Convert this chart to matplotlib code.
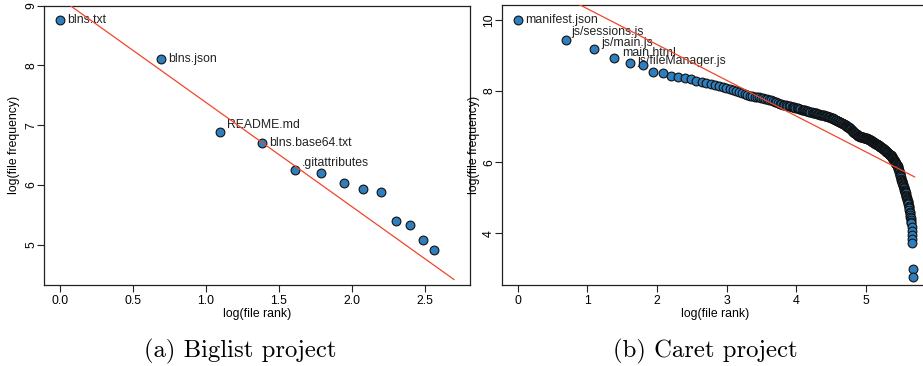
import matplotlib
matplotlib.use("Agg")
import matplotlib.pyplot as plt
import numpy as np

# (a) Biglist project: log frequency of each file, ordered by rank
biglist_freq = [8.76, 8.10, 6.89, 6.70, 6.25, 6.20, 6.04, 5.93, 5.89,
                5.40, 5.34, 5.08, 4.92]
biglist_names = ["blns.txt", "blns.json", "README.md", "blns.base64.txt",
                 ".gitattributes"]
biglist_fit = (9.12, -1.74)   # intercept, slope
biglist_fit_end = 2.70

# (b) Caret project
caret_freq = [
    10.00, 9.44, 9.19, 8.92, 8.80, 8.72, 8.53, 8.52, 8.42, 8.39,
    8.36, 8.33, 8.29, 8.26, 8.23, 8.19, 8.16, 8.13, 8.11, 8.09,
    8.05, 8.02, 7.99, 7.97, 7.94, 7.91, 7.89, 7.87, 7.85, 7.84,
    7.83, 7.82, 7.81, 7.80, 7.79, 7.78, 7.76, 7.74, 7.72, 7.70,
    7.68, 7.66, 7.65, 7.63, 7.62, 7.61, 7.60, 7.59, 7.58, 7.57,
    7.56, 7.55, 7.54, 7.53, 7.52, 7.51, 7.50, 7.49, 7.48, 7.47,
    7.46, 7.46, 7.45, 7.44, 7.43, 7.42, 7.41, 7.40, 7.39, 7.39,
    7.38, 7.37, 7.37, 7.36, 7.35, 7.35, 7.34, 7.33, 7.33, 7.32,
    7.32, 7.31, 7.31, 7.30, 7.29, 7.28, 7.28, 7.27, 7.26, 7.25,
    7.24, 7.23, 7.22, 7.21, 7.20, 7.19, 7.18, 7.17, 7.16, 7.15,
    7.14, 7.13, 7.12, 7.11, 7.10, 7.09, 7.08, 7.07, 7.06, 7.05,
    7.04, 7.02, 7.01, 7.00, 6.99, 6.98, 6.97, 6.95, 6.93, 6.92,
    6.90, 6.89, 6.87, 6.86, 6.84, 6.83, 6.81, 6.80, 6.79, 6.78,
    6.77, 6.75, 6.74, 6.74, 6.73, 6.73, 6.72, 6.72, 6.71, 6.71,
    6.70, 6.70, 6.70, 6.69, 6.69, 6.69, 6.68, 6.68, 6.68, 6.67,
    6.66, 6.66, 6.65, 6.64, 6.64, 6.63, 6.62, 6.62, 6.61, 6.60,
    6.59, 6.59, 6.58, 6.57, 6.56, 6.56, 6.55, 6.54, 6.53, 6.52,
    6.52, 6.51, 6.50, 6.50, 6.49, 6.48, 6.48, 6.47, 6.46, 6.46,
    6.45, 6.44, 6.43, 6.43, 6.42, 6.41, 6.40, 6.40, 6.39, 6.38,
    6.37, 6.36, 6.35, 6.35, 6.34, 6.33, 6.32, 6.31, 6.30, 6.29,
    6.28, 6.28, 6.27, 6.26, 6.25, 6.24, 6.23, 6.22, 6.21, 6.21,
    6.20, 6.19, 6.19, 6.18, 6.16, 6.15, 6.13, 6.12, 6.10, 6.09,
    6.07, 6.06, 6.04, 6.03, 6.01, 6.00, 5.99, 5.97, 5.96, 5.94,
    5.93, 5.91, 5.90, 5.88, 5.87, 5.84, 5.81, 5.78, 5.75, 5.72,
    5.69, 5.66, 5.63, 5.60, 5.57, 5.54, 5.50, 5.48, 5.46, 5.43,
    5.41, 5.38, 5.36, 5.33, 5.31, 5.28, 5.26, 5.23, 5.21, 5.18,
    5.16, 5.14, 5.12, 5.09, 5.06, 5.03, 5.00, 4.97, 4.94, 4.91,
    4.88, 4.84, 4.81, 4.78, 4.75, 4.71, 4.66, 4.61, 4.56, 4.51,
    4.46, 4.42, 4.38, 4.33, 4.28, 4.17, 4.06, 3.95, 3.84, 3.73,
    3.00, 2.78,
]
caret_names = ["manifest.json", "js/sessions.js", "js/main.js", "main.html",
               "js/fileManager.js"]
caret_fit = (11.32, -1.006)
caret_fit_end = 5.70

plt.rcParams["font.family"] = ["Liberation Sans", "DejaVu Sans"]

fill = "#2f7ebd"
red = "#f2462a"
fs = 8.8


def panel(ax, freq, names, fit, fit_end, nudges, xlim, ylim, xticks, yticks,
          tickfmt, ylab_x):
    rank = np.log(np.arange(1, len(freq) + 1))
    freq = np.array(freq)

    for i, name in enumerate(names):
        dx, dy = nudges[i]
        ax.annotate(name, (rank[i], freq[i]), xytext=(dx, dy),
                    textcoords="offset points", fontsize=fs,
                    va="center", ha="left", color="#222222", zorder=2)

    ax.scatter(rank, freq, s=40, c=fill, edgecolors="#111111",
               linewidths=0.8, zorder=3)

    xs = np.array([0, fit_end])
    ax.plot(xs, fit[0] + fit[1] * xs, color=red, lw=0.9, zorder=4)

    ax.set_xlim(*xlim)
    ax.set_ylim(*ylim)
    ax.set_xticks(xticks)
    ax.set_xticklabels([tickfmt.format(t) for t in xticks])
    ax.set_yticks(yticks)
    ax.set_yticklabels([str(t) for t in yticks])
    ax.tick_params(axis="both", length=5, width=0.8, labelsize=fs, color="#222222")
    ax.tick_params(axis="y", labelrotation=90, pad=0)
    ax.tick_params(axis="x", pad=2)
    for lbl in ax.get_yticklabels():
        lbl.set_va("center")
    for sp in ax.spines.values():
        sp.set_linewidth(0.9)
        sp.set_color("#222222")
    ax.set_xlabel("log(file rank)", fontsize=fs, labelpad=1)
    ax.set_ylabel("log(file frequency)", fontsize=fs)
    ax.yaxis.set_label_coords(ylab_x, 0.5)


fig = plt.figure(figsize=(9.23, 3.66), dpi=100)
ax1 = fig.add_axes([44 / 923, 1 - 285 / 366, 426 / 923, 279.5 / 366])
ax2 = fig.add_axes([502 / 923, 1 - 285 / 366, 427 / 923, 280 / 366])

panel(ax1, biglist_freq, biglist_names, biglist_fit, biglist_fit_end,
      [(5, 0), (5, 0), (5, 5), (5, 0), (5, 5)],
      (-0.11, 2.81), (4.33, 9.0), [0.0, 0.5, 1.0, 1.5, 2.0, 2.5],
      [5, 6, 7, 8, 9], "{:.1f}", -0.056)
panel(ax2, caret_freq, caret_names, caret_fit, caret_fit_end,
      [(5, 0), (4, 6), (5, 4), (5.5, 4), (5, 1)],
      (-0.227, 5.907), (2.546, 10.42), [0, 1, 2, 3, 4, 5],
      [4, 6, 8, 10], "{:d}", -0.052)

fig.text(240 / 923, 1 - 357 / 366, "(a) Biglist project", ha="center",
         va="baseline", fontsize=17.8, family="cmr10")
fig.text(705 / 923, 1 - 357 / 366, "(b) Caret project", ha="center",
         va="baseline", fontsize=17.8, family="cmr10")

fig.savefig("out.png", dpi=100)
